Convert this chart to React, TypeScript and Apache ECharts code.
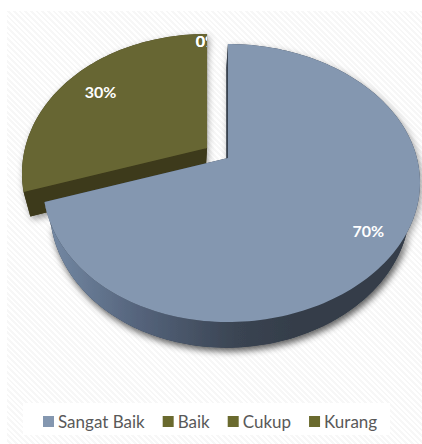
import React, { useEffect, useRef } from "react";
import * as echarts from "echarts";

const categories = ["Sangat Baik", "Baik", "Cukup", "Kurang"];
const values = [70, 30, 0, 0];
const labels = ["70%", "30%", "0%", "0%"];
const labelRadii = [0.84, 0.78, 0.93, 0.93];
const faceColors = ["#8497b0", "#676633", "#676633", "#676633"];
const legendColors = ["#8497b0", "#6a6a2e", "#6a6a2e", "#6a6a2e"];
const wallColors = ["#343d49", "#3d3a1b", "#3d3a1b", "#3d3a1b"];
const layerOrder = [3, 2, 4, 5];

const total = values.reduce((a, b) => a + b, 0);

const PIVOT_X = 217.5;
const PIVOT_Y = 153;
const PERSP = 0.18;
const RY = 134.5;

function rimXY(apex: number[], t: number, r: number): number[] {
  const u = Math.sin(t);
  const v = Math.cos(t);
  const rx = 185.5 + 3.5 * u;
  const k = 1 + PERSP * v * r;
  return [apex[0] + (rx * u * r) / k, apex[1] - (RY * v * r) / k];
}

function lowerXY(apex: number[], p: number[]): number[] {
  return [apex[0] - 1.5 + (p[0] - apex[0]) * 0.955, apex[1] + 24 + (p[1] - apex[1]) * 1.01];
}

function sliceApex(index: number): number[] {
  // a slice with no value sits on the last slice that has one
  let i = index;
  while (i > 0 && values[i] === 0) i--;
  const start = (values.slice(0, i).reduce((a, b) => a + b, 0) / total) * Math.PI * 2;
  const mid = start + ((values[i] / total) * Math.PI * 2) / 2;
  return [PIVOT_X + 12.9 * Math.sin(mid), PIVOT_Y - 8.5 * Math.cos(mid)];
}

function makeRenderItem(index: number) {
  return (_params: any, api: any) => {
    const value = api.value(0);
    const start = (values.slice(0, index).reduce((a, b) => a + b, 0) / total) * Math.PI * 2;
    const sweep = (value / total) * Math.PI * 2;
    const mid = start + sweep / 2;
    const apex = sliceApex(index);
    const children: any[] = [];
    if (value > 0) {
      const steps = Math.max(8, Math.round(sweep * 40));
      const top: number[][] = [];
      for (let i = 0; i <= steps; i++) top.push(rimXY(apex, start + (sweep * i) / steps, 1));
      const low = top.map((p) => lowerXY(apex, p));
      const lowApex = lowerXY(apex, apex);
      const wallFill =
        index === 0
          ? new echarts.graphic.LinearGradient(
              50,
              0,
              300,
              0,
              [
                { offset: 0, color: "#7388a3" },
                { offset: 0.35, color: "#55647c" },
                { offset: 0.75, color: "#3a4452" },
                { offset: 1, color: "#343d49" },
              ],
              true
            )
          : wallColors[index];
      children.push({
        type: "polygon",
        shape: { points: [lowApex, ...low] },
        style: {
          fill: wallColors[index],
          shadowBlur: 7,
          shadowOffsetX: 2,
          shadowOffsetY: 3,
          shadowColor: "rgba(0,0,0,0.4)",
        },
      });
      children.push({
        type: "polygon",
        shape: { points: [...top, ...low.slice().reverse()] },
        style: { fill: wallFill, shadowBlur: 7, shadowOffsetX: 2, shadowOffsetY: 3, shadowColor: "rgba(0,0,0,0.4)" },
      });
      children.push({
        type: "polygon",
        shape: { points: [apex, top[0], low[0], lowApex] },
        style: { fill: wallColors[index] },
      });
      children.push({
        type: "polygon",
        shape: { points: [apex, top[top.length - 1], low[low.length - 1], lowApex] },
        style: { fill: wallColors[index] },
      });
      children.push({
        type: "polygon",
        shape: { points: [apex, ...top] },
        style: { fill: faceColors[index] },
      });
    }
    const labelAt = rimXY(apex, mid, labelRadii[index]);
    const label: any = {
      type: "text",
      style: {
        text: labels[index],
        x: labelAt[0],
        y: labelAt[1],
        fill: "#ffffff",
        font: "bold 16px Lato",
        align: "center",
        verticalAlign: "middle",
      },
    };
    if (value === 0) {
      return {
        type: "group",
        clipPath: { type: "rect", shape: { x: 0, y: 0, width: labelAt[0], height: 444 } },
        children: [label],
      };
    }
    children.push(label);
    return { type: "group", children };
  };
}

export default function App() {
  const ref = useRef<HTMLDivElement>(null);
  useEffect(() => {
    document.body.style.margin = "0";
    document.body.style.background = "#ffffff";
    const chart = echarts.init(ref.current!, undefined, { renderer: "svg" });
    chart.setOption({
      animation: false,
      color: legendColors,
      legend: {
        data: categories,
        left: 38,
        top: 408,
        icon: "rect",
        itemWidth: 11,
        itemHeight: 11,
        itemGap: 18,
        selectedMode: false,
        textStyle: { fontFamily: "Lato", fontSize: 17, color: "#595959", padding: [0, 0, 0, -1] },
      },
      series: categories.map((name, i) => ({
        type: "custom",
        name,
        z: layerOrder[i],
        coordinateSystem: "none",
        itemStyle: { color: legendColors[i] },
        data: [[values[i]]],
        renderItem: makeRenderItem(i),
      })),
    });
    return () => chart.dispose();
  }, []);
  return (
    <div style={{ position: "relative", width: 422, height: 444, overflow: "hidden" }}>
      <div
        style={{
          position: "absolute",
          left: 7,
          top: 11,
          right: 0,
          bottom: 0,
          background: "repeating-linear-gradient(45deg, #ffffff 0 2px, #f7f7f7 2px 4px)",
        }}
      />
      <div style={{ position: "absolute", left: 23, top: 403, width: 367, height: 32, background: "#ffffff" }} />
      <div ref={ref} style={{ position: "absolute", left: 0, top: 0, width: 422, height: 444 }} />
    </div>
  );
}
